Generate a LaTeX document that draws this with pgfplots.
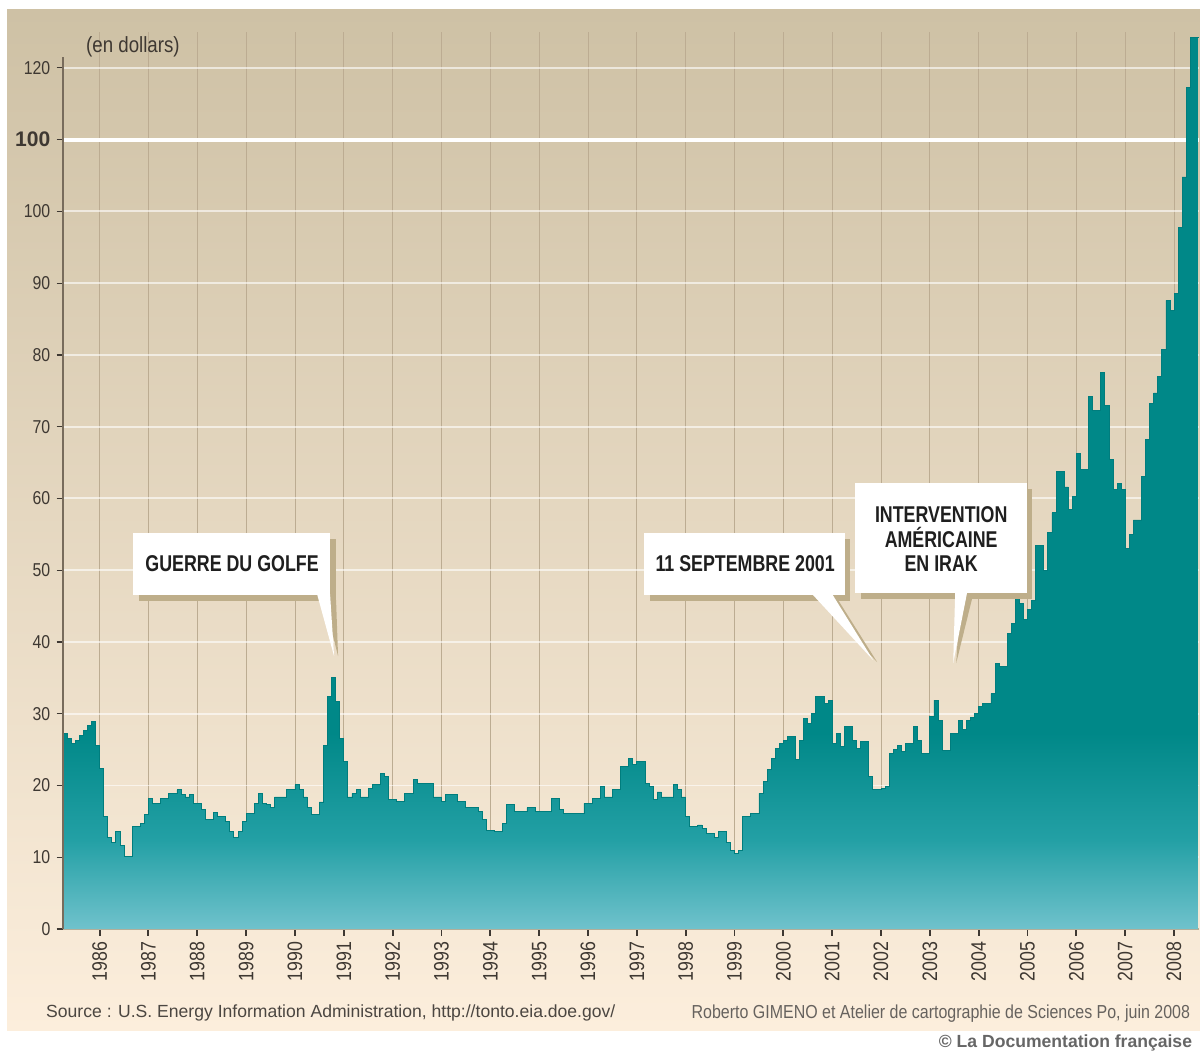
\documentclass[border=0pt]{standalone}
\usepackage{fontspec}
\setmainfont{Liberation Sans}[FakeStretch=0.85]
\newfontfamily\annfont{Liberation Sans}[FakeStretch=0.78]
\newfontfamily\widefont{Liberation Sans}
\usepackage{pgfplots}
\pgfplotsset{compat=1.18}
\usepackage{pgfplotstable}

\definecolor{bgtop}{RGB}{206,193,165}
\definecolor{bgmid}{RGB}{238,224,200}
\definecolor{bgbot}{RGB}{252,238,220}
\definecolor{tealD}{RGB}{0,136,136}
\definecolor{tealM}{RGB}{35,160,165}
\definecolor{tealL}{RGB}{112,194,204}
\definecolor{gridv}{RGB}{188,172,146}
\definecolor{axisbrown}{RGB}{120,108,92}
\definecolor{labelgray}{RGB}{62,56,50}
\definecolor{shadowtan}{RGB}{190,174,138}
\definecolor{credit}{RGB}{75,70,65}

\pgfdeclareverticalshading{tealfade}{100bp}{%
  color(0bp)=(tealL); color(25bp)=(tealL); color(30bp)=(tealM);
  color(36bp)=(tealD); color(100bp)=(tealD)}

% prix mensuel du baril, avril 1985 -> juin 2008 (dernier point = fin juin)
\pgfplotstableread[row sep=\\]{
v\\
27.3\\ 26.6\\ 25.9\\ 26.3\\ 27.0\\ 27.7\\ 28.3\\ 28.9\\ 25.6\\
22.4\\ 15.7\\ 12.7\\ 12.0\\ 13.6\\ 11.7\\ 10.1\\ 10.1\\ 14.3\\ 14.3\\ 14.7\\ 15.9\\
18.2\\ 17.5\\ 17.5\\ 18.2\\ 18.2\\ 18.9\\ 18.9\\ 19.4\\ 18.7\\ 18.4\\ 18.7\\ 17.5\\
17.5\\ 16.6\\ 15.2\\ 15.2\\ 16.3\\ 15.7\\ 15.7\\ 15.0\\ 13.6\\ 12.7\\ 13.6\\ 15.0\\
16.1\\ 16.1\\ 17.5\\ 18.9\\ 17.5\\ 17.3\\ 17.0\\ 18.4\\ 18.4\\ 18.4\\ 19.4\\ 19.4\\
20.1\\ 19.4\\ 18.4\\ 17.0\\ 15.9\\ 15.9\\ 17.7\\ 25.6\\ 32.4\\ 35.0\\ 31.7\\ 26.6\\
23.3\\ 18.4\\ 18.9\\ 19.4\\ 18.4\\ 18.4\\ 19.6\\ 20.1\\ 20.1\\ 21.7\\ 21.2\\ 18.0\\
18.0\\ 17.8\\ 17.8\\ 18.9\\ 18.9\\ 20.8\\ 20.3\\ 20.3\\ 20.3\\ 20.3\\ 18.4\\ 18.4\\
17.8\\ 18.8\\ 18.8\\ 18.8\\ 17.8\\ 17.8\\ 16.9\\ 16.9\\ 16.9\\ 16.4\\ 15.2\\ 13.7\\
13.7\\ 13.6\\ 13.6\\ 14.7\\ 17.3\\ 17.3\\ 16.4\\ 16.4\\ 16.4\\ 16.9\\ 16.9\\ 16.4\\
16.4\\ 16.4\\ 16.4\\ 18.2\\ 18.2\\ 16.6\\ 16.1\\ 16.1\\ 16.1\\ 16.1\\ 16.1\\ 17.5\\
17.5\\ 18.2\\ 18.2\\ 19.8\\ 18.4\\ 18.4\\ 19.4\\ 19.4\\ 22.6\\ 22.6\\ 23.8\\ 22.9\\
23.3\\ 23.3\\ 20.3\\ 19.8\\ 18.0\\ 19.1\\ 18.4\\ 18.4\\ 18.4\\ 20.1\\ 19.5\\ 18.4\\
15.7\\ 14.3\\ 14.3\\ 14.5\\ 14.0\\ 13.3\\ 13.3\\ 12.8\\ 13.6\\ 13.6\\ 12.0\\ 11.0\\
10.5\\ 11.0\\ 15.7\\ 15.7\\ 16.1\\ 16.1\\ 18.9\\ 20.5\\ 22.2\\ 23.8\\ 25.2\\ 25.8\\
26.3\\ 26.8\\ 26.8\\ 23.6\\ 26.3\\ 29.3\\ 28.7\\ 30.0\\ 32.4\\ 32.4\\ 31.4\\ 31.9\\
25.9\\ 27.2\\ 25.4\\ 28.2\\ 28.2\\ 26.3\\ 25.2\\ 26.1\\ 26.1\\ 21.2\\ 19.4\\ 19.4\\
19.6\\ 19.8\\ 24.5\\ 25.0\\ 25.6\\ 24.7\\ 25.9\\ 25.9\\ 28.2\\ 26.3\\ 24.5\\ 24.5\\
29.6\\ 31.9\\ 29.1\\ 24.9\\ 24.9\\ 27.2\\ 27.2\\ 29.1\\ 27.8\\ 29.0\\ 29.5\\ 30.0\\
31.0\\ 31.4\\ 31.4\\ 32.8\\ 37.0\\ 36.6\\ 36.6\\ 41.2\\ 42.6\\ 48.9\\ 45.4\\ 43.1\\
44.5\\ 45.8\\ 53.4\\ 53.4\\ 50.0\\ 55.2\\ 58.0\\ 63.7\\ 63.7\\ 61.6\\ 58.4\\ 60.3\\
66.3\\ 64.0\\ 64.0\\ 74.2\\ 72.3\\ 72.3\\ 77.5\\ 73.0\\ 65.4\\ 61.2\\ 62.1\\ 61.2\\
53.0\\ 55.0\\ 57.0\\ 57.0\\ 63.1\\ 68.2\\ 73.3\\ 74.7\\ 77.0\\ 80.7\\ 87.6\\ 86.2\\
88.6\\ 97.8\\ 104.8\\ 117.3\\ 124.3\\ 124.3\\
124.3\\
}\oil

\begin{document}
\begin{tikzpicture}
\useasboundingbox (0,0) rectangle (24cm,-21.14cm);
\begin{scope}[x=0.02cm, y=-0.02cm]
  \fill[white] (0,0) rectangle (1200,1057);
  \shade[top color=bgtop, middle color=bgmid, bottom color=bgbot] (7,10) rectangle (1200,1030);
\end{scope}

\begin{axis}[
  at={(1.26cm,-18.58cm)}, anchor=south west,
  scale only axis, width=22.71cm, height=17.94cm,
  xmin=1985.25, xmax=2008.5, ymin=0, ymax=125,
  axis x line*=bottom, axis y line*=left,
  x axis line style={draw=gridv, line width=1pt},
  y axis line style={draw=none},
  xtick={1986,...,2008}, minor x tick num=11,
  ytick={0,10,...,120},
  yticklabels={0,10,20,30,40,50,60,70,80,90,100,{\widefont\bfseries\fontsize{12}{12}\selectfont 100},120},
  tick align=outside, major tick length=0.13cm, minor tick length=0.08cm,
  major x tick style={labelgray, line width=1.1pt},
  minor x tick style={gridv, line width=0.5pt},
  y tick style={labelgray, line width=0.7pt},
  grid=major,
  x grid style={gridv, line width=0.5pt},
  y grid style={white, opacity=0.6, line width=1.1pt},
  /pgf/number format/assume math mode=true,
  tick label style={text=labelgray},
  xticklabel style={rotate=90, anchor=east, font=\fontsize{11.9}{12}\selectfont,
    /pgf/number format/1000 sep={}},
  yticklabel style={font=\fontsize{10.6}{12}\selectfont},
  clip=false,
]
  \draw[white, line width=2.3pt] (axis cs:1985.25,110) -- (axis cs:2008.5,110);
  \addplot[const plot, draw=none, shade, shading=tealfade]
    table[x expr={1985.25+\coordindex/12}, y=v] {\oil} \closedcycle;
  \addplot[const plot, tealD!92!black, line width=0.5pt]
    table[x expr={1985.25+\coordindex/12}, y=v] {\oil};
  \draw[axisbrown, line width=1.2pt] (axis cs:1985.25,0) -- (axis cs:1985.25,121.5);
\end{axis}

\begin{scope}[x=0.02cm, y=-0.02cm,
  annot/.style={font=\annfont\bfseries\fontsize{13}{13.8}\selectfont, text=black!88, align=center}]
  % GUERRE DU GOLFE
  \fill[shadowtan] (139,539) rectangle (336,601);
  \fill[shadowtan] (324,600) -- (336,600) -- (338,656) -- cycle;
  \fill[white] (133,533) rectangle (330,595);
  \fill[white] (317,594) -- (330,594) -- (334,656) -- cycle;
  \node[annot] at (232,564) {GUERRE DU GOLFE};
  % 11 SEPTEMBRE 2001
  \fill[shadowtan] (650,539) rectangle (850,601);
  \fill[shadowtan] (818,600) -- (838,600) -- (877,662) -- cycle;
  \fill[white] (644,533) rectangle (845,595);
  \fill[white] (812,594) -- (832,594) -- (873,660) -- cycle;
  \node[annot] at (745,564) {11 SEPTEMBRE 2001};
  % INTERVENTION AMERICAINE EN IRAK
  \fill[shadowtan] (861,489) rectangle (1032,599);
  \fill[shadowtan] (960,598) -- (972,598) -- (956,663) -- cycle;
  \fill[white] (855,483) rectangle (1027,593);
  \fill[white] (955,592) -- (967,592) -- (953,663) -- cycle;
  \node[annot] at (941,539) {INTERVENTION\\AMÉRICAINE\\EN IRAK};
  % textes
  \node[anchor=west, text=labelgray, font=\fontsize{12.5}{12}\selectfont] at (80,47) {(en dollars)};
  \node[anchor=west, text=credit, font=\widefont\fontsize{10}{12}\selectfont] at (40,1013)
    {Source : U.S. Energy Information Administration, http://tonto.eia.doe.gov/};
  \node[anchor=east, text=credit!85, font=\fontsize{10.7}{12}\selectfont] at (1196,1013)
    {Roberto GIMENO et Atelier de cartographie de Sciences Po, juin 2008};
  \node[anchor=east, text=black!60, font=\widefont\fontsize{10}{12}\selectfont\bfseries] at (1198,1043)
    {© La Documentation française};
\end{scope}
\end{tikzpicture}
\end{document}
